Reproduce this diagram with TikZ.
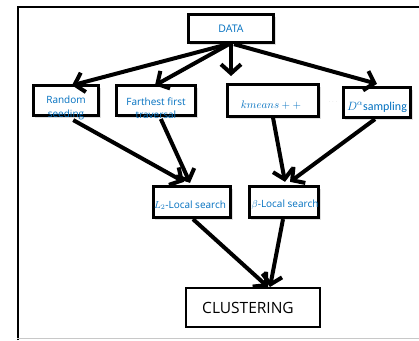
\documentclass[tikz,border=0pt]{standalone}
\usepackage{fontspec}
\setmainfont{Open Sans}
\newfontfamily\calfont{Carlito}
\usepackage{tikz}
\usetikzlibrary{arrows.meta,shadows,positioning}
\definecolor{textblue}{RGB}{0, 112, 192}
\definecolor{framegray}{RGB}{200, 200, 200}

\begin{document}
\begin{tikzpicture}[x=1pt, y=-1pt,
    algobox/.style={draw=black, line width=2.8pt, fill=white, inner sep=0pt,
        drop shadow={shadow xshift=2pt, shadow yshift=-2.5pt, opacity=0.25}},
    algotext/.style={text=textblue, font=\fontsize{10}{13.5}\selectfont, align=center, inner sep=0pt},
    flow/.style={line width=4pt, -{Straight Barb[length=9pt, width=20pt]}}]

            \useasboundingbox (0,0) rectangle (419,340);

            % Page frame
            \draw[line width=2.5pt] (18,340) -- (18,7) -- (419,7);
            \draw[framegray, line width=0.8pt] (17,338.5) -- (419,338.5);

            % Boxes
            \node[algobox, minimum width=85.5pt, minimum height=28.5pt] (data) at (231,28.5) {};
            \node[algobox, minimum width=65.5pt, minimum height=30.5pt] (rand) at (66,100.5) {};
            \node[algobox, minimum width=79.5pt, minimum height=30.5pt] (far) at (156,100.5) {};
            \node[algobox, minimum width=91.5pt, minimum height=31.5pt] (kmeans) at (273,100.5) {};
            \node[algobox, minimum width=67.5pt, minimum height=30.5pt] (dalpha) at (377,102.5) {};
            \node[algobox, minimum width=77.5pt, minimum height=31.5pt] (ltwo) at (192,202) {};
            \node[algobox, minimum width=69.5pt, minimum height=31.5pt] (beta) at (284,202) {};
            \node[draw=black, line width=2pt, fill=white, minimum width=134pt, minimum height=39pt] (clust) at (253,307.5) {};

            % Arrows from DATA
            \coordinate (gap) at (231,76);
            \draw[flow] ([xshift=-3pt]data.south) -- ([xshift=6pt, yshift=-1.5pt]rand.north);
            \draw[flow] ([xshift=-2pt]data.south) -- ([xshift=-1pt, yshift=-1.5pt]far.north);
            \draw[flow] (data.south) -- (gap);
            \draw[flow] ([xshift=3pt]data.south) -- ([yshift=2pt]dalpha.north);

            % Arrows to the local searches
            \draw[flow, shorten <=6pt] ([xshift=2pt]rand.south) -- ([xshift=-8pt, yshift=3pt]ltwo.north);
            \draw[flow, shorten <=2pt] ([xshift=4pt]far.south) -- ([xshift=-2pt, yshift=2pt]ltwo.north);
            \draw[flow] (kmeans.south) -- ([xshift=1pt, yshift=3pt]beta.north);
            \draw[flow] ([xshift=-2pt]dalpha.south) -- ([xshift=6pt, yshift=3pt]beta.north);

            % Arrows to CLUSTERING
            \draw[flow] ([xshift=1pt]ltwo.south) -- ([xshift=15pt]clust.north);
            \draw[flow] ([xshift=-1pt]beta.south) -- ([xshift=17pt]clust.north);

            % Texts
            \node[algotext, font=\fontsize{10.5}{12}\selectfont] (data-t) at (data.center) {DATA};
            \node[algotext] (rand-t) at ([yshift=-7.5pt]rand.center) {Random\\seeding};
            \node[algotext] (far-t) at ([yshift=-7.5pt]far.center) {Farthest first\\traversal};
            \node[algotext, font=\fontsize{11}{12}\selectfont] (kmeans-t) at ([xshift=-2pt, yshift=-4.5pt]kmeans.center) {$kmeans++$};
            \node[algotext, font=\fontsize{12}{13}\calfont] (dalpha-t) at ([yshift=-4.5pt]dalpha.center) {$D^{\alpha}$sampling};
            \node[text=gray!60, font=\fontsize{5}{5}\selectfont, inner sep=0pt] (dots) at (333,102) {$\cdots$};
            \node[algotext] (ltwo-t) at ([xshift=-2pt, yshift=-3pt]ltwo.center) {$L_2$-Local search};
            \node[algotext] (beta-t) at ([xshift=1pt, yshift=-3pt]beta.center) {$\beta$-Local search};
            \node[font=\fontsize{15.5}{18}\selectfont, inner sep=0pt] (clust-t) at ([xshift=-5pt]clust.center) {CLUSTERING};
        \end{tikzpicture}
\end{document}
